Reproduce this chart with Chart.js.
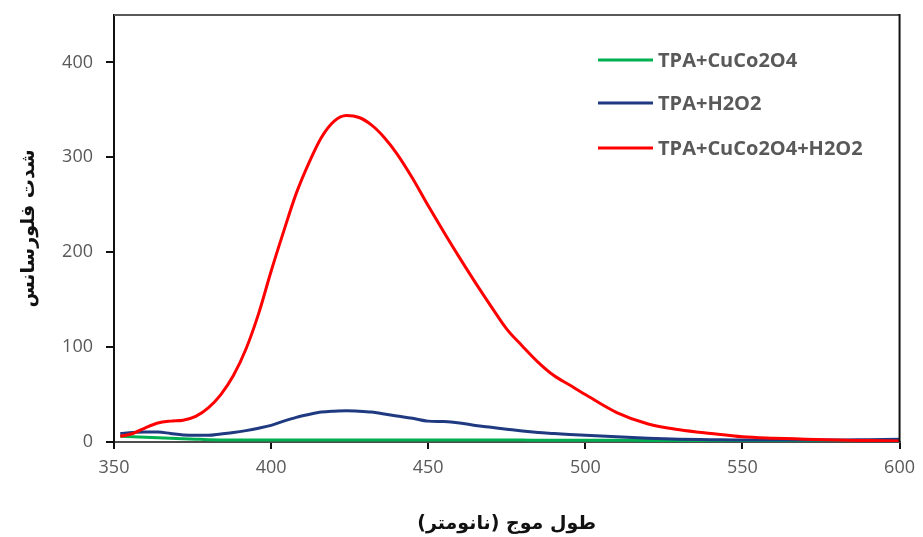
<!DOCTYPE html>
<html>
<head>
<meta charset="utf-8">
<script src="https://cdn.jsdelivr.net/npm/chart.js@4.4.1/dist/chart.umd.min.js"></script>
<style>
  html, body { margin: 0; padding: 0; background: #fff; }
  #wrap { width: 923px; height: 537px; }
</style>
</head>
<body>
<div id="wrap"><canvas id="spectrum" width="923" height="537"></canvas></div>
<script>
// emission spectra (nm vs. intensity)
const wavelengths = [352, 356, 360, 364, 368, 372, 376, 380, 384, 388, 392, 396, 400, 404, 408, 412, 416, 420, 424, 428, 432, 436, 440, 445, 450, 455, 460, 465, 470, 475, 480, 485, 490, 495, 500, 510, 520, 530, 540, 550, 560, 570, 580, 590, 600];
const tpaCuCo2O4 = [6, 5.5, 5, 4.5, 4, 3.5, 3, 2.5, 2.2, 2, 2, 2, 2, 2, 2, 2, 2, 2, 2, 2, 2, 2, 2, 2, 2, 2, 2, 2, 2, 2, 2, 1.8, 1.8, 1.8, 1.8, 1.8, 1.7, 1.7, 1.6, 1.6, 1.5, 1.5, 1.5, 1.5, 1.5];
const tpaH2O2 = [9, 10, 10.5, 10.5, 9, 7.5, 7, 7, 8.5, 10, 12, 14.5, 17.5, 22, 26, 29, 31.5, 32.5, 33, 32.5, 31.5, 29.5, 27.5, 25, 22, 21.5, 20, 17.5, 15.5, 13.5, 11.5, 10, 9, 8, 7, 5.5, 4, 3, 2.5, 2, 2, 2, 2, 2.5, 3];
const tpaCuCo2O4H2O2 = [6, 9, 15, 20, 22, 23, 27, 36, 50, 70, 98, 135, 180, 222, 262, 294, 321, 338, 344, 342, 334, 321, 304, 278, 249, 221, 194, 168, 143, 119, 101, 84, 70, 60, 50, 31, 19, 13, 9, 5.5, 4, 3, 2, 1.5, 1];

const seriesLabels = ["TPA+CuCo2O4", "TPA+H2O2", "TPA+CuCo2O4+H2O2"];
const seriesColors = ["#00B050", "#1F3A80", "#FF0000"];
const xTicks = [350, 400, 450, 500, 550, 600];
const yTicks = [0, 100, 200, 300, 400];

const toPoints = (ys) => ys.map((y, i) => ({ x: wavelengths[i], y: y }));

// top and right edge of the plot box
const plotFrame = {
  id: "plotFrame",
  afterDraw(chart) {
    const { ctx, chartArea: a } = chart;
    ctx.save();
    ctx.lineWidth = 2;
    ctx.strokeStyle = "#5a5a5a";
    ctx.beginPath();
    ctx.moveTo(a.left, a.top);
    ctx.lineTo(a.right, a.top);
    ctx.stroke();
    ctx.strokeStyle = "#111";
    ctx.beginPath();
    ctx.moveTo(a.right, a.top - 1);
    ctx.lineTo(a.right, a.bottom);
    ctx.stroke();
    ctx.restore();
  }
};

// legend inside the plot, upper right
const innerLegend = {
  id: "innerLegend",
  afterDraw(chart) {
    const { ctx, chartArea: a } = chart;
    const x0 = a.left + 484;
    const rows = [60, 103, 148];
    ctx.save();
    ctx.font = "bold 20px 'Open Sans'";
    ctx.textBaseline = "middle";
    chart.data.datasets.forEach((ds, i) => {
      const y = rows[i];
      ctx.strokeStyle = ds.borderColor;
      ctx.lineWidth = 3;
      ctx.beginPath();
      ctx.moveTo(x0, y);
      ctx.lineTo(x0 + 55, y);
      ctx.stroke();
      ctx.fillStyle = "#595959";
      ctx.fillText(ds.label, x0 + 60, y + 1);
    });
    ctx.restore();
  }
};

const datasets = [tpaCuCo2O4, tpaH2O2, tpaCuCo2O4H2O2].map((ys, i) => ({
  label: seriesLabels[i],
  data: toPoints(ys),
  borderColor: seriesColors[i],
  borderWidth: 3,
  pointRadius: 0,
  cubicInterpolationMode: "monotone",
  order: 3 - i
}));

new Chart(document.getElementById("spectrum"), {
  type: "line",
  data: { datasets },
  options: {
    responsive: false,
    animation: false,
    layout: { padding: { top: 15, right: 21, left: 0, bottom: 0 } },
    plugins: {
      legend: { display: false },
      tooltip: { enabled: false }
    },
    scales: {
      x: {
        type: "linear",
        min: 350,
        max: 600,
        afterBuildTicks: (s) => { s.ticks = xTicks.map(v => ({ value: v })); },
        afterFit: (s) => { s.height = 95; },
        border: { display: true, color: "#4d4d4d", width: 2 },
        grid: { drawOnChartArea: false, drawTicks: true, tickLength: 7, color: "#111", lineWidth: 2 },
        ticks: { color: "#595959", padding: 8, font: { family: "'Open Sans'", size: 18 } },
        title: {
          display: true,
          text: "طول موج (نانومتر)",
          color: "#111",
          padding: { top: 0, bottom: 2 },
          font: { family: "'DejaVu Sans'", size: 19, weight: "bold" }
        }
      },
      y: {
        min: 0,
        max: 450,
        afterBuildTicks: (s) => { s.ticks = yTicks.map(v => ({ value: v })); },
        afterFit: (s) => { s.width = 114; },
        border: { display: true, color: "#111", width: 2 },
        grid: { drawOnChartArea: false, drawTicks: true, tickLength: 8, color: "#111", lineWidth: 2 },
        // zero line height keeps the tick labels from padding the top of the plot
        ticks: { color: "#595959", padding: 13, font: { family: "'Open Sans'", size: 18, lineHeight: 0 } },
        title: {
          display: true,
          text: "شدت فلورسانس",
          color: "#111",
          padding: { top: 18, bottom: 0 },
          font: { family: "'DejaVu Sans'", size: 19, weight: "bold" }
        }
      }
    }
  },
  plugins: [plotFrame, innerLegend]
});
</script>
</body>
</html>
